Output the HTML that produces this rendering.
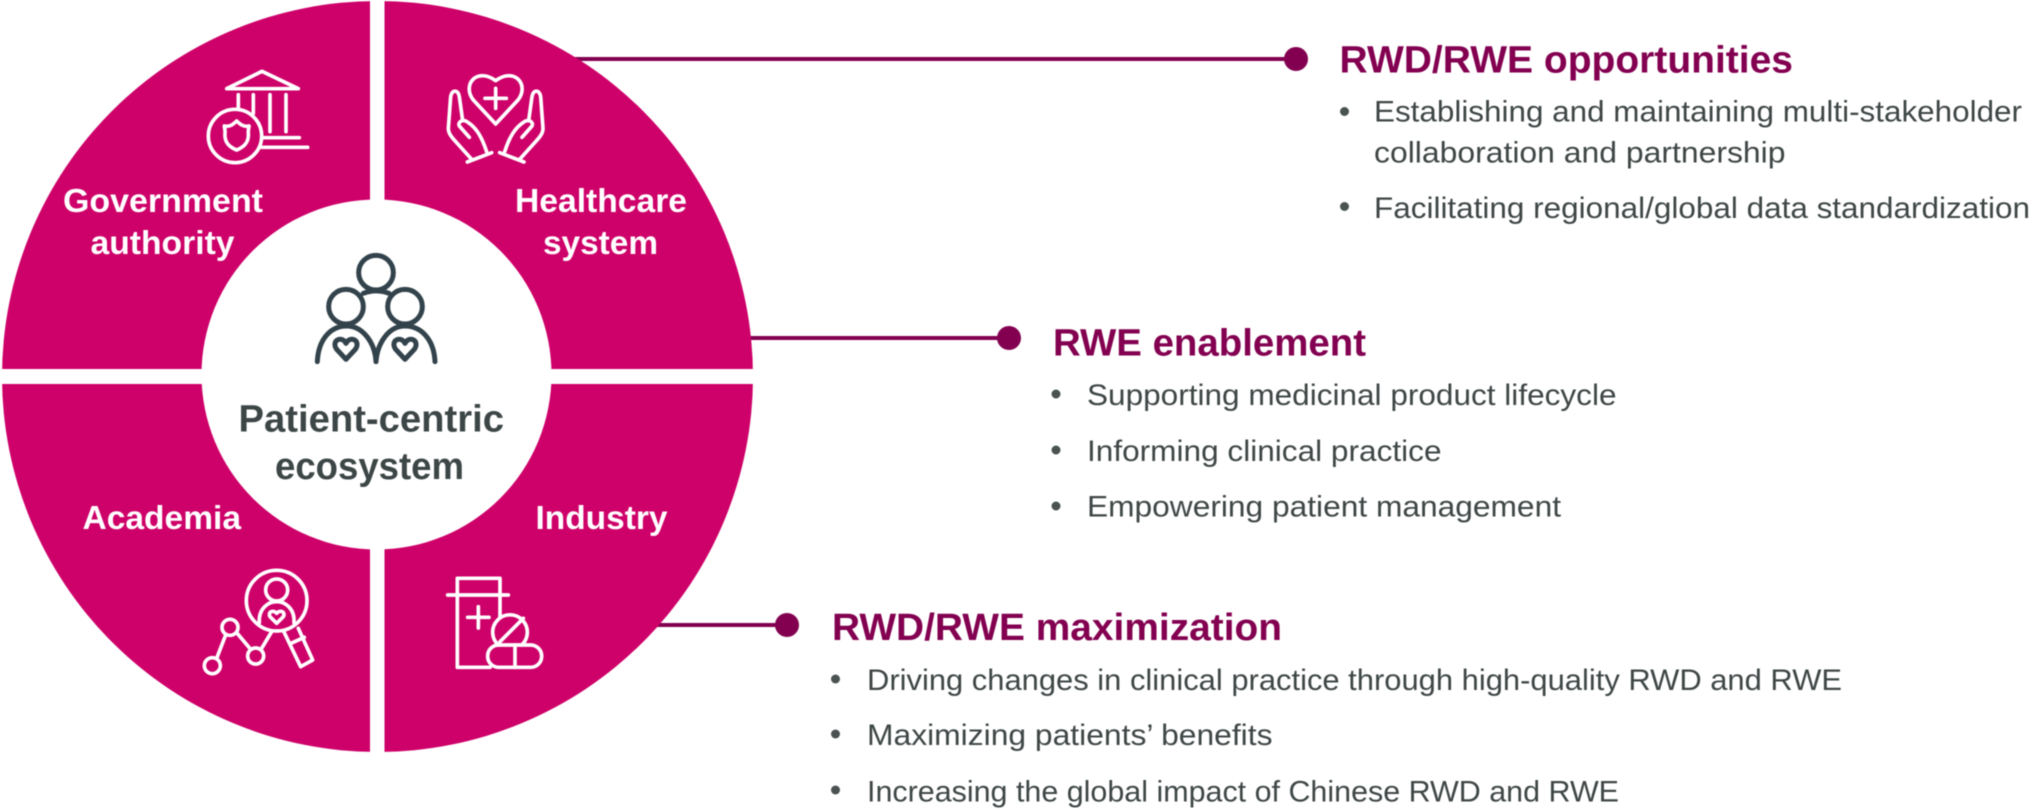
<!DOCTYPE html>
<html>
<head>
<meta charset="utf-8">
<style>
html,body{margin:0;padding:0;background:#fff;width:2032px;height:810px;overflow:hidden}
svg{display:block;filter:blur(.4px)}
text{font-family:"Liberation Sans",Arial,sans-serif}
.h{font-weight:700;font-size:38px;fill:#830051}
.b{font-size:30px;fill:#3f4646}
.w{font-weight:700;font-size:33.5px;fill:#fff}
.c{font-weight:700;font-size:38px;fill:#3d4646}
.ic{fill:none;stroke:#fff;stroke-width:11;stroke-linecap:round;stroke-linejoin:round}
.pp{fill:none;stroke:#33434c;stroke-width:15;stroke-linecap:round;stroke-linejoin:round}
</style>
</head>
<body>
<svg width="2032" height="810" viewBox="0 0 2032 810" xmlns="http://www.w3.org/2000/svg">
<rect width="2032" height="810" fill="#fff"/>

<!-- connectors -->
<g fill="#830051">
<rect x="570" y="57" width="720" height="4"/>
<circle cx="1296" cy="59" r="12"/>
<rect x="745" y="336" width="258" height="4"/>
<circle cx="1009" cy="338" r="12"/>
<rect x="650" y="623" width="132" height="4"/>
<circle cx="787" cy="625" r="12"/>
</g>

<!-- ring -->
<circle cx="377.5" cy="376.5" r="375.5" fill="#ce0069"/>
<rect x="370" y="0" width="14.5" height="760" fill="#fff"/>
<rect x="0" y="369" width="760" height="15" fill="#fff"/>
<circle cx="376.5" cy="374.5" r="175" fill="#fff"/>

<!-- segment labels -->
<text class="w" x="63" y="212" textLength="200" lengthAdjust="spacingAndGlyphs">Government</text>
<text class="w" x="90.5" y="254" textLength="144" lengthAdjust="spacingAndGlyphs">authority</text>
<text class="w" x="515" y="212" textLength="172" lengthAdjust="spacingAndGlyphs">Healthcare</text>
<text class="w" x="543" y="254" textLength="115" lengthAdjust="spacingAndGlyphs">system</text>
<text class="w" x="82.5" y="529" textLength="158.5" lengthAdjust="spacingAndGlyphs">Academia</text>
<text class="w" x="535.5" y="529" textLength="132" lengthAdjust="spacingAndGlyphs">Industry</text>

<!-- centre -->
<text class="c" x="238.5" y="431.5" textLength="265.5" lengthAdjust="spacingAndGlyphs">Patient-centric</text>
<text class="c" x="275" y="479" textLength="189" lengthAdjust="spacingAndGlyphs">ecosystem</text>
<g transform="translate(290,240) scale(.33333)" class="pp">
<circle cx="258" cy="98" r="52"/>
<circle cx="168" cy="200" r="52"/>
<circle cx="345" cy="200" r="52"/>
<path d="M220,160 Q258,145 297,160"/>
<path d="M82,365 C85,300 120,258 170,258 C220,258 255,310 258,365"/>
<path d="M258,365 C262,310 295,258 345,258 C395,258 432,300 435,365"/>
<path d="M168,358 L140,328 C122,302 155,285 168,310 C181,285 214,302 196,328 Z"/>
<path d="M345,358 L317,328 C299,302 332,285 345,310 C358,285 391,302 373,328 Z"/>
</g>

<!-- building icon -->
<g transform="translate(190,50) scale(.33333)" class="ic">
<path d="M110,116 L216,64 L325,116 Z"/>
<path d="M145,134 V178 M190,134 V190 M240,134 V245 M288,134 V245"/>
<circle cx="135" cy="258" r="80"/>
<path d="M218,263 H328 M215,292 H353"/>
<path d="M140,300 C115,290 103,275 105,250 C106,240 103,232 103,228 C120,232 130,222 140,213 C150,222 160,232 177,228 C177,232 174,240 175,250 C177,275 165,290 140,300 Z"/>
</g>

<!-- hands icon -->
<g transform="translate(190,50) scale(.33333)" class="ic">
<path d="M917,222 L850,150 C815,105 860,50 917,92 C974,50 1019,105 984,150 Z"/>
<path d="M917,115 V175 M885,145 H949"/>
<path d="M845,328 L800,278 C785,262 775,250 775,235 L782,140 C785,118 805,118 808,140 L818,212"/>
<path d="M838,262 L808,228 C802,215 820,205 835,218 C860,235 875,260 890,305"/>
<path d="M832,336 L905,308"/>
<g transform="translate(1834,0) scale(-1,1)">
<path d="M845,328 L800,278 C785,262 775,250 775,235 L782,140 C785,118 805,118 808,140 L818,212"/>
<path d="M838,262 L808,228 C802,215 820,205 835,218 C860,235 875,260 890,305"/>
<path d="M832,336 L905,308"/>
</g>
</g>

<!-- academia icon -->
<g transform="translate(190,560) scale(.33333)" class="ic">
<circle cx="260" cy="122" r="91"/>
<circle cx="260" cy="90" r="33"/>
<path d="M208,188 C205,145 235,125 260,125 C285,125 315,145 312,188"/>
<path d="M260,190 L240,170 C232,155 252,148 260,160 C268,148 288,155 280,170 Z"/>
<path d="M282,216 L332,320 L368,300 L325,205"/>
<path d="M303,250 L343,232"/>
<circle cx="67" cy="317" r="24"/>
<circle cx="120" cy="202" r="24"/>
<circle cx="197" cy="288" r="24"/>
<path d="M80,295 L107,225 M140,218 L182,268 M215,265 L245,215"/>
</g>

<!-- industry icon -->
<g transform="translate(190,560) scale(.33333)" class="ic">
<path d="M930,170 V55 H802 V322 H900"/>
<path d="M773,105 H955"/>
<path d="M865,140 V204 M833,172 H897"/>
<path d="M925,255 A52,52 0 1 1 995,255"/>
<path d="M930,245 L1000,175"/>
<rect x="893" y="255" width="162" height="67" rx="33" ry="33"/>
<path d="M975,255 V322"/>
</g>

<!-- RWD/RWE opportunities -->
<text class="h" x="1339.5" y="72.5" textLength="453.5" lengthAdjust="spacingAndGlyphs">RWD/RWE opportunities</text>
<circle cx="1344.5" cy="111.5" r="4.5" fill="#4a5252"/>
<text class="b" x="1374" y="121.5" textLength="648" lengthAdjust="spacingAndGlyphs">Establishing and maintaining multi-stakeholder</text>
<text class="b" x="1374" y="162.5" textLength="411.5" lengthAdjust="spacingAndGlyphs">collaboration and partnership</text>
<circle cx="1344.5" cy="206.5" r="4.5" fill="#4a5252"/>
<text class="b" x="1374" y="218" textLength="656" lengthAdjust="spacingAndGlyphs">Facilitating regional/global data standardization</text>

<!-- RWE enablement -->
<text class="h" x="1053" y="355.5" textLength="313" lengthAdjust="spacingAndGlyphs">RWE enablement</text>
<circle cx="1056" cy="394" r="4.5" fill="#4a5252"/>
<text class="b" x="1087" y="405" textLength="529.5" lengthAdjust="spacingAndGlyphs">Supporting medicinal product lifecycle</text>
<circle cx="1056" cy="450" r="4.5" fill="#4a5252"/>
<text class="b" x="1087" y="461" textLength="354.5" lengthAdjust="spacingAndGlyphs">Informing clinical practice</text>
<circle cx="1056" cy="506" r="4.5" fill="#4a5252"/>
<text class="b" x="1087" y="516.5" textLength="474" lengthAdjust="spacingAndGlyphs">Empowering patient management</text>

<!-- RWD/RWE maximization -->
<text class="h" x="832" y="640" textLength="450" lengthAdjust="spacingAndGlyphs">RWD/RWE maximization</text>
<circle cx="835.5" cy="679" r="4.5" fill="#4a5252"/>
<text class="b" x="867" y="690" textLength="975" lengthAdjust="spacingAndGlyphs">Driving changes in clinical practice through high-quality RWD and RWE</text>
<circle cx="835.5" cy="734" r="4.5" fill="#4a5252"/>
<text class="b" x="867" y="745" textLength="405.5" lengthAdjust="spacingAndGlyphs">Maximizing patients’ benefits</text>
<circle cx="835.5" cy="790" r="4.5" fill="#4a5252"/>
<text class="b" x="867" y="801.5" textLength="752" lengthAdjust="spacingAndGlyphs">Increasing the global impact of Chinese RWD and RWE</text>
</svg>
</body>
</html>
